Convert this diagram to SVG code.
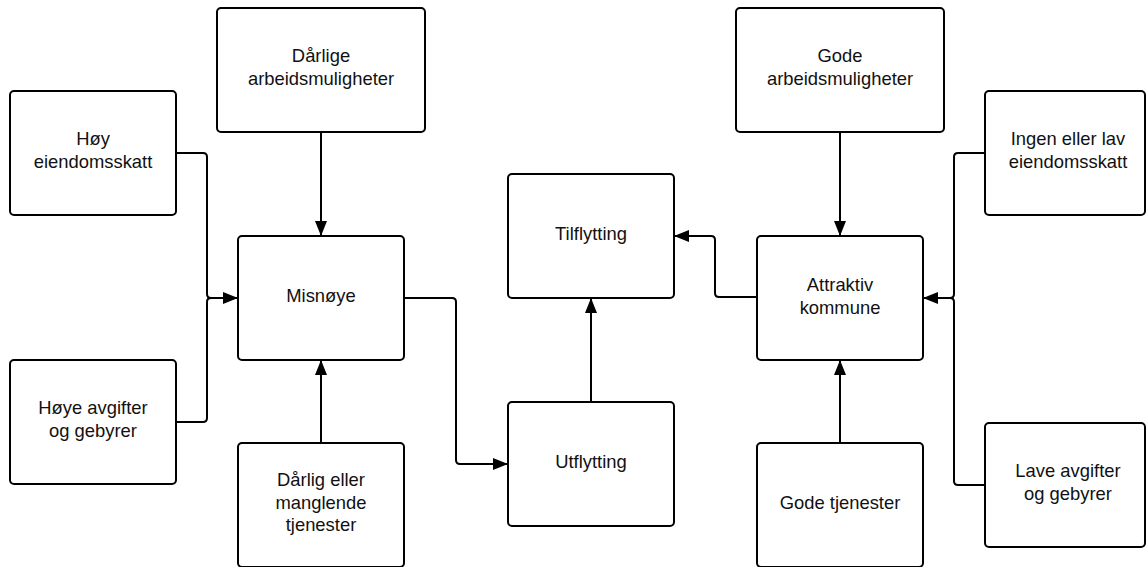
<svg xmlns="http://www.w3.org/2000/svg" width="1146" height="567" viewBox="0 0 1146 567">
<style>
.box{fill:#fff;stroke:#000;stroke-width:2}
.t{font-family:"Liberation Sans",Arial,sans-serif;font-size:18.4px;fill:#111;text-anchor:middle}
.c{fill:none;stroke:#000;stroke-width:2}
</style>
<defs>
<marker id="ah" markerUnits="userSpaceOnUse" markerWidth="15" markerHeight="12" viewBox="0 0 15 12" refX="15" refY="6" orient="auto">
<path d="M0,0 L15,6 L0,12 z" fill="#000"/>
</marker>
</defs>
<g id="connectors">
<path class="c" d="M321,132 V236" marker-end="url(#ah)"/>
<path class="c" d="M176,153 H203 Q207,153 207,157 V294 Q207,298 211,298 H238" marker-end="url(#ah)"/>
<path class="c" d="M176,422 H203 Q207,422 207,418 V302 Q207,298 211,298 H238"/>
<path class="c" d="M321,443 V360" marker-end="url(#ah)"/>
<path class="c" d="M404,298 H452 Q456,298 456,302 V460 Q456,464 460,464 H508" marker-end="url(#ah)"/>
<path class="c" d="M591,402 V298" marker-end="url(#ah)"/>
<path class="c" d="M757,297 H719 Q715,297 715,293 V240 Q715,236 711,236 H674" marker-end="url(#ah)"/>
<path class="c" d="M840,132 V236" marker-end="url(#ah)"/>
<path class="c" d="M840,443 V360" marker-end="url(#ah)"/>
<path class="c" d="M985,153 H958 Q954,153 954,157 V294 Q954,298 950,298 H923" marker-end="url(#ah)"/>
<path class="c" d="M985,485 H958 Q954,485 954,481 V302 Q954,298 950,298 H923"/>
</g>
<g id="n_hoy_eiendomsskatt">
<rect class="box" x="10" y="91" width="166" height="124" rx="4"/>
<text class="t" x="93" y="145">Høy</text>
<text class="t" x="93" y="167.5">eiendomsskatt</text>
</g>
<g id="n_darlige_arbeid">
<rect class="box" x="217" y="8" width="208" height="124" rx="4"/>
<text class="t" x="321" y="62">Dårlige</text>
<text class="t" x="321" y="84.5">arbeidsmuligheter</text>
</g>
<g id="n_misnoye">
<rect class="box" x="238" y="236" width="166" height="124" rx="4"/>
<text class="t" x="321" y="302">Misnøye</text>
</g>
<g id="n_hoye_avgifter">
<rect class="box" x="10" y="360" width="166" height="124" rx="4"/>
<text class="t" x="93" y="414">Høye avgifter</text>
<text class="t" x="93" y="436.5">og gebyrer</text>
</g>
<g id="n_darlig_tjenester">
<rect class="box" x="238" y="443" width="166" height="124" rx="4"/>
<text class="t" x="321" y="486">Dårlig eller</text>
<text class="t" x="321" y="508.5">manglende</text>
<text class="t" x="321" y="531">tjenester</text>
</g>
<g id="n_tilflytting">
<rect class="box" x="508" y="174" width="166" height="124" rx="4"/>
<text class="t" x="591" y="240">Tilflytting</text>
</g>
<g id="n_utflytting">
<rect class="box" x="508" y="402" width="166" height="124" rx="4"/>
<text class="t" x="591" y="468">Utflytting</text>
</g>
<g id="n_gode_arbeid">
<rect class="box" x="736" y="8" width="208" height="124" rx="4"/>
<text class="t" x="840" y="62">Gode</text>
<text class="t" x="840" y="84.5">arbeidsmuligheter</text>
</g>
<g id="n_attraktiv">
<rect class="box" x="757" y="236" width="166" height="124" rx="4"/>
<text class="t" x="840" y="291">Attraktiv</text>
<text class="t" x="840" y="313.5">kommune</text>
</g>
<g id="n_ingen_eiendomsskatt">
<rect class="box" x="985" y="91" width="160" height="124" rx="4"/>
<text class="t" x="1068" y="145">Ingen eller lav</text>
<text class="t" x="1068" y="167.5">eiendomsskatt</text>
</g>
<g id="n_gode_tjenester">
<rect class="box" x="757" y="443" width="166" height="124" rx="4"/>
<text class="t" x="840" y="509">Gode tjenester</text>
</g>
<g id="n_lave_avgifter">
<rect class="box" x="985" y="423" width="160" height="124" rx="4"/>
<text class="t" x="1068" y="477">Lave avgifter</text>
<text class="t" x="1068" y="499.5">og gebyrer</text>
</g>
</svg>
